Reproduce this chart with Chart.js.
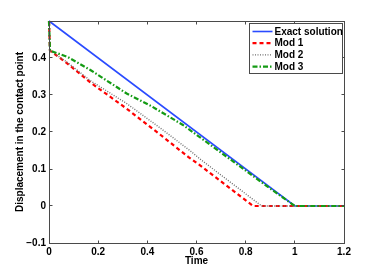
<!DOCTYPE html>
<html>
<head>
<meta charset="utf-8">
<script src="https://cdn.jsdelivr.net/npm/chart.js@4/dist/chart.umd.min.js"></script>
<style>
    html, body { margin: 0; padding: 0; background: #ffffff; }
    #wrap { width: 381px; height: 273px; position: relative; }
</style>
</head>
<body>
<div id="wrap"><canvas id="contactChart"></canvas></div>
<script>
// Data
const seriesLabels = ['Exact solution', 'Mod 1', 'Mod 2', 'Mod 3'];

const timeExact = [0, 1, 1.2];
const dispExact = [0.5, 0, 0];

const timeMod1 = [0, 0.004, 0.075, 0.17, 0.316, 0.45, 0.566, 0.62, 0.83, 1.2];
const dispMod1 = [0.5, 0.42, 0.385, 0.333, 0.263, 0.194, 0.133, 0.107, 0, 0];

const timeMod2 = [0, 0.004, 0.075, 0.17, 0.316, 0.45, 0.573, 0.62, 0.865, 1.2];
const dispMod2 = [0.5, 0.42, 0.388, 0.338, 0.277, 0.212, 0.15, 0.124, 0, 0];

const timeMod3 = [0, 0.004, 0.075, 0.17, 0.316, 0.416, 0.545, 0.63, 0.75, 0.892, 1.0, 1.2];
const dispMod3 = [0.5, 0.42, 0.403, 0.367, 0.304, 0.27, 0.219, 0.178, 0.12, 0.051, 0, 0];

const xTicks = [0, 0.2, 0.4, 0.6, 0.8, 1, 1.2];
const yTicks = [-0.1, 0, 0.1, 0.2, 0.3, 0.4, 0.5];

const fontFamily = "'Liberation Sans', Arial, Helvetica, sans-serif";
const axisColor = '#4a4a4a';

function toPoints(xs, ys) {
    return xs.map((x, i) => ({ x: x, y: ys[i] }));
}

function fmtTick(v) {
    const r = Math.round(v * 10) / 10;
    return String(r).replace('-', '\u2212');
}

// Kotak sumbu dengan tick di dalam (gaya MATLAB)
const boxPlugin = {
    id: 'matlabBox',
    afterDatasetsDraw(chart) {
        const { ctx, chartArea: a, scales } = chart;
        const L = Math.floor(a.left) + 0.5, R = Math.floor(a.right) + 0.5;
        const T = Math.floor(a.top) + 0.5, B = Math.floor(a.bottom) + 0.5;
        ctx.save();
        ctx.strokeStyle = axisColor;
        ctx.lineWidth = 1;
        ctx.strokeRect(L, T, R - L, B - T);
        ctx.beginPath();
        xTicks.forEach(v => {
            const px = Math.floor(scales.x.getPixelForValue(v)) + 0.5;
            ctx.moveTo(px, B); ctx.lineTo(px, B - 3);
            ctx.moveTo(px, T); ctx.lineTo(px, T + 3);
        });
        yTicks.forEach(v => {
            const py = Math.floor(scales.y.getPixelForValue(v)) + 0.5;
            ctx.moveTo(L, py); ctx.lineTo(L + 3, py);
            ctx.moveTo(R, py); ctx.lineTo(R - 3, py);
        });
        ctx.stroke();
        ctx.restore();
    }
};

// Legenda di pojok kanan atas
const legendPlugin = {
    id: 'matlabLegend',
    afterDraw(chart) {
        const { ctx, chartArea: a } = chart;
        const right = Math.floor(a.right) - 2 + 0.5;
        const left = right - 93;
        const top = Math.floor(a.top) + 2 + 0.5;
        const height = 50;
        ctx.save();
        ctx.fillStyle = '#ffffff';
        ctx.fillRect(left, top, right - left, height);
        ctx.strokeStyle = axisColor;
        ctx.lineWidth = 1;
        ctx.strokeRect(left, top, right - left, height);
        ctx.font = 'bold 10px ' + fontFamily;
        ctx.textBaseline = 'middle';
        ctx.textAlign = 'left';
        seriesLabels.forEach((label, i) => {
            const ds = chart.data.datasets.find(d => d.label === label);
            const y = top + 8 + i * 11.7;
            ctx.beginPath();
            ctx.strokeStyle = ds.borderColor;
            ctx.lineWidth = ds.borderWidth;
            ctx.setLineDash(ds.borderDash || []);
            ctx.moveTo(left + 3, y);
            ctx.lineTo(left + 23, y);
            ctx.stroke();
            ctx.setLineDash([]);
            ctx.fillStyle = '#000000';
            ctx.fillText(label, left + 25, y + 0.5);
        });
        ctx.restore();
    }
};

const datasets = [
    { label: seriesLabels[0], data: toPoints(timeExact, dispExact), borderColor: '#2a4bff', borderWidth: 1.6, order: 4 },
    { label: seriesLabels[1], data: toPoints(timeMod1, dispMod1), borderColor: '#ff0000', borderWidth: 2.2, borderDash: [4, 3], order: 3 },
    { label: seriesLabels[2], data: toPoints(timeMod2, dispMod2), borderColor: '#6e6e6e', borderWidth: 1.4, borderDash: [1, 1.5], order: 2 },
    { label: seriesLabels[3], data: toPoints(timeMod3, dispMod3), borderColor: '#149b14', borderWidth: 2.2, borderDash: [5, 2, 1.5, 2], order: 1 }
];
datasets.forEach(d => {
    d.pointRadius = 0;
    d.tension = 0;
    d.fill = false;
    d.clip = 3;
});

new Chart(document.getElementById('contactChart'), {
    type: 'line',
    data: { datasets: datasets },
    options: {
        responsive: true,
        maintainAspectRatio: false,
        animation: false,
        layout: { padding: { left: 0, right: 37, top: 21, bottom: 0 } },
        plugins: {
            legend: { display: false },
            tooltip: { enabled: false }
        },
        scales: {
            x: {
                type: 'linear',
                min: 0,
                max: 1.2,
                afterFit(scale) { scale.height = 30; },
                afterBuildTicks(scale) { scale.ticks = xTicks.map(v => ({ value: v })); },
                grid: { display: false, drawTicks: false },
                border: { display: false },
                ticks: {
                    padding: 3,
                    color: '#000000',
                    font: { family: fontFamily, size: 10, weight: 'bold' },
                    maxRotation: 0,
                    callback: v => fmtTick(v)
                },
                title: {
                    display: true,
                    text: 'Time',
                    color: '#000000',
                    font: { family: fontFamily, size: 10, weight: 'bold' },
                    padding: { top: 0, bottom: 6 }
                }
            },
            y: {
                type: 'linear',
                min: -0.1,
                max: 0.5,
                afterFit(scale) { scale.width = 49; },
                afterBuildTicks(scale) { scale.ticks = yTicks.map(v => ({ value: v })); },
                grid: { display: false, drawTicks: false },
                border: { display: false },
                ticks: {
                    padding: 3,
                    color: '#000000',
                    font: { family: fontFamily, size: 10, weight: 'bold' },
                    callback: v => (v > 0.45 ? '' : fmtTick(v))
                },
                title: {
                    display: true,
                    text: 'Displacement in the contact point',
                    color: '#000000',
                    font: { family: fontFamily, size: 10, weight: 'bold' },
                    padding: { top: 14, bottom: 0 }
                }
            }
        }
    },
    plugins: [boxPlugin, legendPlugin]
});
</script>
</body>
</html>
